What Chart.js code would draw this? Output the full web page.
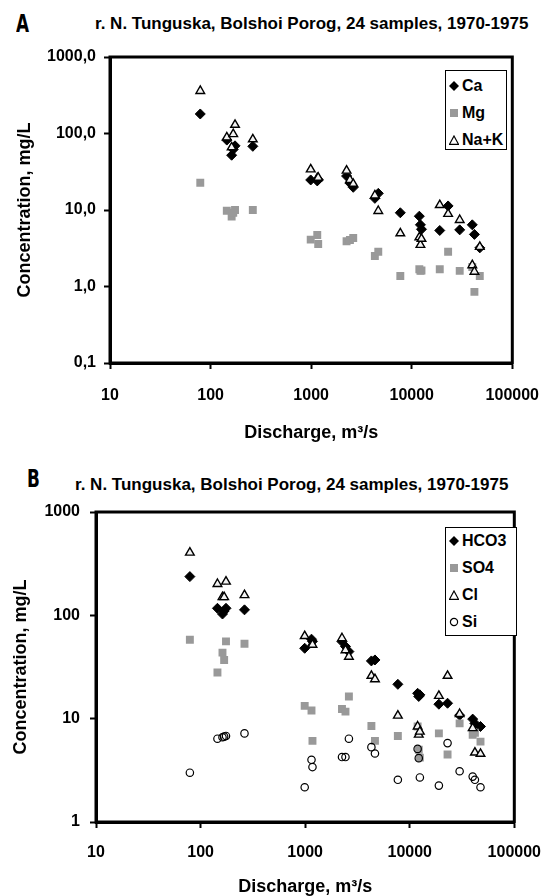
<!DOCTYPE html>
<html>
<head>
<meta charset="utf-8">
<script src="https://cdn.jsdelivr.net/npm/chart.js@4.4.1/dist/chart.umd.min.js"></script>
<style>
  body { margin: 0; width: 556px; height: 896px; position: relative; background: #fff; overflow: hidden;
         font-family: 'Liberation Sans', Arial, sans-serif; font-weight: bold; color: #000; }
  .abs { position: absolute; white-space: nowrap; }
  .letter { font: bold 25px 'Liberation Sans Narrow', 'DejaVu Sans Condensed', sans-serif; line-height: 24px;
            transform: scaleX(0.75); transform-origin: left center; }
  .title { font-size: 17px; line-height: 20px; }
  .legend { position: absolute; border: 1px solid #000; background: #fff; box-sizing: border-box; }
  .row { position: absolute; left: 0; height: 20px; line-height: 20px; font-size: 16px; white-space: nowrap; }
  .row svg { position: absolute; top: 5px; }
  .row span { position: absolute; }
</style>
</head>
<body>

<div class="abs letter" style="left:16px;top:12px;">A</div>
<div class="abs title" style="left:95px;top:14px;">r. N. Tunguska, Bolshoi Porog, 24 samples, 1970-1975</div>
<div class="abs" style="left:0;top:0;width:556px;height:445px;">
  <canvas id="chartA" width="556" height="445"></canvas>
</div>
<div class="legend" style="left:445px;top:70px;width:62px;height:80px;">
  <div class="row" style="top:5px;"><svg width="10" height="10" style="left:3px"><polygon points="5,0 10,5 5,10 0,5" fill="#000"/></svg><span style="left:16px">Ca</span></div>
  <div class="row" style="top:32px;"><svg width="10" height="10" style="left:3px"><rect x="1" y="1" width="8" height="8" fill="#999"/></svg><span style="left:16px">Mg</span></div>
  <div class="row" style="top:59px;"><svg width="10" height="10" style="left:3px"><polygon points="5,1 9.5,9.3 0.5,9.3" fill="#fff" stroke="#000" stroke-width="1.2"/></svg><span style="left:16px">Na+K</span></div>
</div>

<div class="abs letter" style="left:27px;top:467px;">B</div>
<div class="abs title" style="left:75px;top:475px;">r. N. Tunguska, Bolshoi Porog, 24 samples, 1970-1975</div>
<div class="abs" style="left:0;top:445px;width:556px;height:451px;">
  <canvas id="chartB" width="556" height="451"></canvas>
</div>
<div class="legend" style="left:445px;top:527px;width:72px;height:109px;">
  <div class="row" style="top:3px;"><svg width="10" height="10" style="left:3px"><polygon points="5,0 10,5 5,10 0,5" fill="#000"/></svg><span style="left:16px">HCO3</span></div>
  <div class="row" style="top:30px;"><svg width="10" height="10" style="left:3px"><rect x="1" y="1" width="8" height="8" fill="#999"/></svg><span style="left:16px">SO4</span></div>
  <div class="row" style="top:57px;"><svg width="10" height="10" style="left:3px"><polygon points="5,1 9.5,9.3 0.5,9.3" fill="#fff" stroke="#000" stroke-width="1.2"/></svg><span style="left:16px">Cl</span></div>
  <div class="row" style="top:84px;"><svg width="10" height="10" style="left:3px"><circle cx="5" cy="5" r="3.6" fill="none" stroke="#000" stroke-width="1.2"/></svg><span style="left:16px">Si</span></div>
</div>

<script>
// 24 samples, discharge in m3/s
const discharge = [79, 145, 162, 168, 175, 263, 990, 1150, 1175, 2250, 2430, 2620,
                   4300, 4650, 7700, 11900, 12200, 12500, 19000, 23000, 30000, 40000, 42000, 47500];

// chart A, mg/L
const ca  = [180, 82, 52, 62, 69, 68, 24.7, 24, 25, 27.8, 22.5, 19.8,
             14.2, 16.5, 9.2, 8.3, 6.4, 5.6, 5.4, 11.3, 5.5, 6.4, 4.8, 3.2];
const mg  = [22.7, 9.8, 8.2, 9.2, 10.0, 10.0, 4.1, 4.7, 3.6, 3.9, 4.05, 4.3,
             2.5, 2.85, 1.37, 1.68, 1.6, 1.62, 1.68, 2.85, 1.6, 1.8, 0.85, 1.37];
const nak = [360, 89, 66, 98, 130, 84, 34, 26, 26.5, 32.7, 24.7, 22,
             15.5, 9.7, 4.96, 4.4, 3.5, 4.2, 11.6, 8.9, 7.4, 1.9, 1.56, 3.3];

// chart B, mg/L
const hco3 = [237, 117, 103, 110, 117, 113, 48, 58.8, 56, 55.7, 50, 44.6,
              36.2, 37, 21.5, 17.6, 16.4, 17, 13.8, 14.1, 10.8, 9.9, 9.0, 8.4];
const so4  = [58, 28, 43.6, 37, 56, 53, 13.3, 12, 6.1, 12.4, 11.7, 16.4,
              8.5, 6.1, 6.8, 8.4, 5.0, 4.2, 7.2, 4.5, 9.0, 7.0, 7.3, 6.0];
const cl   = [404, 201, 150, 150, 212, 157, 63, 51.8, 52, 60, 46, 39.8,
              26, 24.1, 10.7, 8.4, 7.0, 7.5, 16.6, 26, 11.1, 8.1, 4.7, 4.57];
const si   = [3.0, 6.4, 6.6, 6.7, 6.8, 7.2, 2.17, 4.0, 3.4, 4.25, 4.25, 6.4,
              5.3, 4.6, 2.56, 5.1, 4.15, 2.7, 2.25, 5.8, 3.1, 2.75, 2.56, 2.17];

const xTicks = [10, 100, 1000, 10000, 100000];
const yTicksA = [0.1, 1, 10, 100, 1000];
const yLabelsA = ['0,1', '1,0', '10,0', '100,0', '1000,0'];
const yTicksB = [1, 10, 100, 1000];
const yLabelsB = ['1', '10', '100', '1000'];

const FONT = "'Liberation Sans', Arial, sans-serif";

function pts(vals) {
  return vals.map((v, i) => ({ x: discharge[i], y: v }));
}

const diamond = { pointStyle: 'rectRot', pointRadius: 5, pointHoverRadius: 5,
  pointBackgroundColor: '#000', pointBorderColor: '#000', pointBorderWidth: 1 };
const square = { pointStyle: 'rect', pointRadius: 5.6, pointHoverRadius: 5.6,
  pointBackgroundColor: '#999', pointBorderColor: '#999', pointBorderWidth: 0 };
const triangle = { pointStyle: 'triangle', pointRadius: 5, pointHoverRadius: 5,
  pointBackgroundColor: '#f2f2f2', pointBorderColor: '#000', pointBorderWidth: 1.4 };
const ring = { pointStyle: 'circle', pointRadius: 3.7, pointHoverRadius: 3.7,
  pointBackgroundColor: 'rgba(0,0,0,0)', pointBorderColor: '#000', pointBorderWidth: 1.2 };

// box round the plot area
const frame = {
  id: 'frame',
  beforeDatasetsDraw(chart) {
    const a = chart.chartArea, ctx = chart.ctx;
    ctx.save();
    ctx.strokeStyle = '#000';
    ctx.lineWidth = 3;
    ctx.strokeRect(a.left, a.top, a.right - a.left, a.bottom - a.top);
    ctx.restore();
  }
};

function makeChart(id, datasets, o) {
  return new Chart(document.getElementById(id), {
    type: 'scatter',
    data: { datasets: datasets },
    options: {
      responsive: false,
      animation: false,
      events: [],
      layout: { padding: { top: o.top, right: o.right, left: 0, bottom: 0 } },
      plugins: { legend: { display: false }, tooltip: { enabled: false } },
      scales: {
        x: {
          type: 'logarithmic', min: 10, max: 100000,
          afterBuildTicks: s => { s.ticks = xTicks.map(v => ({ value: v })); },
          afterFit: s => { s.height = o.xh; },
          ticks: { font: { family: FONT, size: 16, weight: 'bold' }, color: '#000',
                   padding: o.xpad, maxRotation: 0, autoSkip: false,
                   callback: v => String(v) },
          grid: { drawOnChartArea: false, tickLength: 6, tickWidth: 2, tickColor: '#000' },
          border: { width: 3, color: '#000' },
          title: { display: true, text: 'Discharge, m³/s', color: '#000',
                   font: { family: FONT, size: 18, weight: 'bold', lineHeight: 1 },
                   padding: { top: 0, bottom: o.xtb } }
        },
        y: {
          type: 'logarithmic', min: o.yTicks[0], max: o.yTicks[o.yTicks.length - 1],
          afterBuildTicks: s => { s.ticks = o.yTicks.map(v => ({ value: v })); },
          afterFit: s => { s.width = o.yw; },
          ticks: { font: { family: FONT, size: 16, weight: 'bold' }, color: '#000',
                   padding: o.ypad, autoSkip: false,
                   callback: v => o.yLabels[o.yTicks.indexOf(v)] },
          grid: { drawOnChartArea: false, tickLength: 6, tickWidth: 2, tickColor: '#000' },
          border: { width: 3, color: '#000' },
          title: { display: true, text: 'Concentration, mg/L', color: '#000',
                   font: { family: FONT, size: 18, weight: 'bold', lineHeight: 1 },
                   padding: { top: o.ytt, bottom: 0 } }
        }
      }
    },
    plugins: [frame]
  });
}

makeChart('chartA', [
  Object.assign({ label: 'Ca', data: pts(ca), order: 3 }, diamond),
  Object.assign({ label: 'Mg', data: pts(mg), order: 2 }, square),
  Object.assign({ label: 'Na+K', data: pts(nak), order: 1 }, triangle)
], { top: 57, right: 34, xh: 82, yw: 110, xpad: 17, ypad: 8, xtb: 3, ytt: 16,
     yTicks: yTicksA, yLabels: yLabelsA });

makeChart('chartB', [
  Object.assign({ label: 'HCO3', data: pts(hco3), order: 4 }, diamond),
  Object.assign({ label: 'SO4', data: pts(so4), order: 3 }, square),
  Object.assign({ label: 'Cl', data: pts(cl), order: 2 }, triangle),
  Object.assign({ label: 'Si', data: pts(si), order: 1 }, ring)
], { top: 67, right: 27, xh: 74, yw: 96, xpad: 15, ypad: 10, xtb: 0, ytt: 12,
     yTicks: yTicksB, yLabels: yLabelsB });
</script>
</body>
</html>
